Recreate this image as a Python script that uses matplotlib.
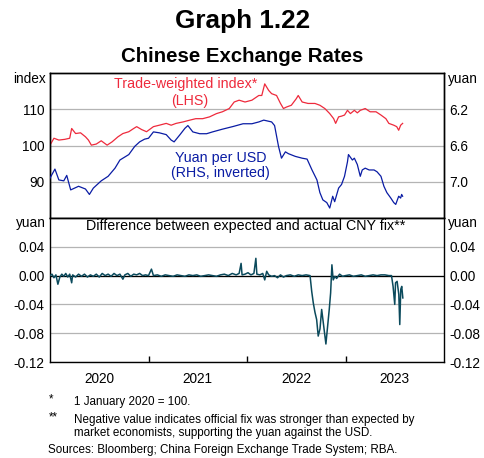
import matplotlib
matplotlib.use("Agg")
import matplotlib.pyplot as plt
from matplotlib.ticker import FixedLocator, FixedFormatter

plt.rcParams['font.family'] = ['Liberation Sans', 'DejaVu Sans']

# ---------------- data (decimal years) ----------------
twi_years = [2020.00, 2020.04, 2020.09, 2020.15, 2020.20, 2020.22, 2020.26, 2020.31, 2020.36, 2020.39,
             2020.42, 2020.47, 2020.52, 2020.58, 2020.63, 2020.69, 2020.74, 2020.80, 2020.85, 2020.88,
             2020.93, 2020.98, 2021.05, 2021.11, 2021.18, 2021.23, 2021.28, 2021.35, 2021.42, 2021.48,
             2021.55, 2021.62, 2021.69, 2021.75, 2021.82, 2021.87, 2021.92, 2021.98, 2022.05, 2022.12,
             2022.15, 2022.18, 2022.22, 2022.25, 2022.30, 2022.34, 2022.37, 2022.40, 2022.45, 2022.50,
             2022.52, 2022.56, 2022.62, 2022.69, 2022.74, 2022.79, 2022.84, 2022.88, 2022.90, 2022.93,
             2022.96, 2022.99, 2023.02, 2023.05, 2023.09, 2023.12, 2023.15, 2023.20, 2023.25, 2023.31,
             2023.36, 2023.41, 2023.44, 2023.49, 2023.52, 2023.54, 2023.56, 2023.58]
twi_vals = [100.1, 102.0, 101.5, 101.7, 102.0, 104.7, 103.3, 103.5, 102.4, 101.5,
            100.1, 100.4, 101.3, 100.1, 101.0, 102.4, 103.3, 103.8, 104.7, 105.2,
            104.4, 103.8, 105.2, 105.6, 106.1, 105.6, 106.1, 106.5, 107.0, 107.4,
            107.4, 107.9, 108.8, 109.3, 110.2, 112.0, 112.5, 112.0, 112.5, 113.8,
            113.8, 117.0, 115.2, 114.3, 113.8, 111.6, 110.2, 110.6, 111.1, 112.9,
            113.8, 112.0, 111.6, 111.6, 111.1, 110.2, 108.8, 107.4, 106.1, 107.9,
            108.1, 108.4, 109.7, 108.8, 109.7, 109.0, 109.7, 110.2, 109.3, 109.3,
            108.4, 107.4, 106.1, 105.6, 105.2, 104.2, 105.6, 106.1]

usd_years = [2020.00, 2020.05, 2020.09, 2020.14, 2020.17, 2020.21, 2020.29, 2020.36, 2020.40, 2020.44,
             2020.52, 2020.59, 2020.66, 2020.71, 2020.80, 2020.86, 2020.91, 2020.96, 2021.00, 2021.05,
             2021.11, 2021.18, 2021.23, 2021.26, 2021.32, 2021.37, 2021.40, 2021.45, 2021.52, 2021.59,
             2021.65, 2021.75, 2021.86, 2021.96, 2022.05, 2022.12, 2022.17, 2022.25, 2022.28, 2022.32,
             2022.35, 2022.39, 2022.42, 2022.49, 2022.56, 2022.61, 2022.66, 2022.71, 2022.74, 2022.77,
             2022.81, 2022.84, 2022.87, 2022.89, 2022.93, 2022.96, 2022.99, 2023.02, 2023.03, 2023.07,
             2023.09, 2023.12, 2023.15, 2023.17, 2023.20, 2023.24, 2023.29, 2023.32, 2023.36, 2023.39,
             2023.42, 2023.46, 2023.49, 2023.51, 2023.52, 2023.54, 2023.56, 2023.57, 2023.58]
usd_vals = [6.96, 6.86, 6.98, 6.99, 6.93, 7.09, 7.05, 7.08, 7.14, 7.07,
            6.99, 6.94, 6.85, 6.76, 6.70, 6.61, 6.56, 6.53, 6.52, 6.45,
            6.46, 6.48, 6.54, 6.56, 6.48, 6.41, 6.38, 6.45, 6.47, 6.47,
            6.45, 6.42, 6.39, 6.36, 6.36, 6.34, 6.32, 6.34, 6.38, 6.61,
            6.74, 6.67, 6.69, 6.72, 6.74, 6.75, 6.87, 6.98, 7.12, 7.20,
            7.23, 7.29, 7.16, 7.22, 7.07, 7.03, 6.94, 6.78, 6.70, 6.76,
            6.74, 6.81, 6.94, 6.87, 6.85, 6.87, 6.87, 6.89, 6.94, 7.05,
            7.12, 7.18, 7.23, 7.25, 7.22, 7.16, 7.18, 7.14, 7.16]

fix_years = [2020.00, 2020.02, 2020.04, 2020.06, 2020.08, 2020.10, 2020.12, 2020.14, 2020.16, 2020.18,
             2020.20, 2020.22, 2020.23, 2020.26, 2020.29, 2020.32, 2020.35, 2020.38, 2020.41, 2020.44,
             2020.47, 2020.50, 2020.53, 2020.56, 2020.59, 2020.62, 2020.65, 2020.68, 2020.71, 2020.74,
             2020.76, 2020.79, 2020.82, 2020.85, 2020.88, 2020.91, 2020.94, 2020.97, 2021.00, 2021.03,
             2021.05, 2021.09, 2021.13, 2021.17, 2021.21, 2021.25, 2021.29, 2021.33, 2021.37, 2021.41,
             2021.45, 2021.49, 2021.53, 2021.57, 2021.61, 2021.65, 2021.69, 2021.73, 2021.77, 2021.81,
             2021.85, 2021.89, 2021.92, 2021.94, 2021.95, 2021.98, 2022.01, 2022.04, 2022.07, 2022.09,
             2022.10, 2022.13, 2022.16, 2022.18, 2022.20, 2022.22, 2022.25, 2022.28, 2022.31, 2022.34,
             2022.37, 2022.40, 2022.44, 2022.48, 2022.52, 2022.56, 2022.60, 2022.64, 2022.657, 2022.673,
             2022.690, 2022.707, 2022.723, 2022.741, 2022.758, 2022.774, 2022.791, 2022.801, 2022.819, 2022.835,
             2022.849, 2022.862, 2022.875, 2022.893, 2022.91, 2022.94, 2022.97, 2023.00, 2023.04, 2023.08,
             2023.12, 2023.16, 2023.20, 2023.24, 2023.28, 2023.32, 2023.36, 2023.40, 2023.44, 2023.467,
             2023.483, 2023.493, 2023.50, 2023.508, 2023.524, 2023.541, 2023.551, 2023.561, 2023.571, 2023.582]
fix_vals = [0.000, 0.002, -0.003, 0.001, -0.012, -0.002, 0.002, -0.001, 0.003, -0.002,
            0.002, -0.010, 0.001, -0.002, 0.002, -0.001, 0.002, -0.002, 0.001, -0.001,
            0.002, -0.002, 0.003, 0.000, 0.002, -0.001, 0.003, 0.000, 0.002, -0.005,
            0.001, 0.003, -0.001, 0.002, 0.001, 0.003, 0.000, 0.001, 0.000, 0.009,
            0.000, 0.001, -0.001, 0.001, 0.000, -0.001, 0.001, 0.000, -0.001, 0.001,
            0.000, 0.001, -0.001, 0.000, 0.001, 0.000, -0.001, 0.001, 0.002, 0.000,
            0.003, 0.001, 0.003, 0.017, 0.001, 0.002, 0.004, 0.001, 0.003, 0.024,
            0.002, 0.001, 0.003, -0.006, 0.006, 0.001, -0.001, 0.000, -0.003, 0.001,
            -0.002, 0.000, 0.001, -0.001, 0.001, 0.000, 0.001, 0.000, -0.022, -0.038,
            -0.051, -0.061, -0.084, -0.074, -0.047, -0.065, -0.084, -0.095, -0.070, -0.047,
            -0.024, 0.015, -0.006, -0.001, -0.004, 0.002, -0.001, 0.000, 0.001, -0.001,
            0.000, 0.001, -0.001, 0.000, 0.001, 0.000, 0.001, 0.001, 0.000, 0.000,
            -0.015, -0.029, -0.040, -0.010, -0.008, -0.026, -0.068, -0.019, -0.015, -0.031]

year_labels = ['2020', '2021', '2022', '2023']
left_ticks = [90, 100, 110]
right_ticks = [6.2, 6.6, 7.0]
diff_ticks = [-0.12, -0.08, -0.04, 0.00, 0.04]

RED = '#ee2a3c'
BLUE = '#0a1ca4'
TEAL = '#0b4a5c'
GRID = '#b4b4b4'

W, H = 485, 458
fig = plt.figure(figsize=(W / 100, H / 100), dpi=100)

def fx(px):
    return px / W

def fy(py):
    return 1 - py / H

L, R = 50, 444
ax1 = fig.add_axes([fx(L), fy(218), fx(R) - fx(L), fy(73) - fy(218)])
ax3 = fig.add_axes([fx(L), fy(362), fx(R) - fx(L), fy(218) - fy(362)])

for ax in (ax1, ax3):
    ax.set_xlim(2020, 2024)
    for s in ax.spines.values():
        s.set_linewidth(1.0)
        s.set_color('black')

TFS = 9.8   # tick label size
AFS = 10.3  # annotation size

# ---- top panel ----
ax1.set_ylim(80, 120)
ax1.yaxis.set_major_locator(FixedLocator(left_ticks))
ax1.yaxis.set_major_formatter(FixedFormatter([str(v) for v in left_ticks]))
ax1.grid(axis='y', color=GRID, lw=0.9)
ax1.set_axisbelow(True)
ax1.tick_params(axis='y', length=0, labelsize=TFS, pad=4)
ax1.tick_params(axis='x', length=0, labelbottom=False)
ax1.plot(twi_years, twi_vals, color=RED, lw=0.9, zorder=3)

ax2 = ax1.twinx()
ax2.set_ylim(7.4, 5.8)
ax2.yaxis.set_major_locator(FixedLocator(right_ticks))
ax2.yaxis.set_major_formatter(FixedFormatter([f"{v:.1f}" for v in right_ticks]))
ax2.tick_params(axis='y', length=0, labelsize=TFS, pad=4)
ax2.plot(usd_years, usd_vals, color=BLUE, lw=0.9, zorder=3)
for s in ax2.spines.values():
    s.set_linewidth(1.0)

ax1.text(2020 + (186 - 50) / 98.7, 116.9, 'Trade-weighted index*', color=RED,
         fontsize=AFS, ha='center', va='center')
ax1.text(2020 + (190 - 50) / 98.7, 112.2, '(LHS)', color=RED,
         fontsize=AFS, ha='center', va='center')
ax1.text(2020 + (221 - 50) / 98.7, 96.6, 'Yuan per USD', color=BLUE,
         fontsize=AFS, ha='center', va='center')
ax1.text(2020 + (221 - 50) / 98.7, 92.5, '(RHS, inverted)', color=BLUE,
         fontsize=AFS, ha='center', va='center')

# ---- bottom panel ----
ax3.set_ylim(-0.12, 0.08)
ax3.yaxis.set_major_locator(FixedLocator(diff_ticks))
ax3.yaxis.set_major_formatter(FixedFormatter([f"{v:.2f}".replace('-0.00', '0.00') for v in diff_ticks]))
ax3.grid(axis='y', color=GRID, lw=0.9)
ax3.set_axisbelow(True)
ax3.axhline(0, color='black', lw=0.9, zorder=2)
ax3.tick_params(axis='y', length=0, labelsize=TFS, pad=4, labelright=True)
ax3.xaxis.set_major_locator(FixedLocator([2021, 2022, 2023]))
ax3.xaxis.set_major_formatter(FixedFormatter([]))
ax3.xaxis.set_minor_locator(FixedLocator([2020.5, 2021.5, 2022.5, 2023.5]))
ax3.xaxis.set_minor_formatter(FixedFormatter(year_labels))
ax3.tick_params(axis='x', which='major', direction='in', length=4, width=1)
ax3.tick_params(axis='x', which='minor', length=0, labelsize=TFS, pad=7)
ax3.plot(fix_years, fix_vals, color=TEAL, lw=1.1, zorder=3)
ax3.text(2022.0 - (0.5 * (R + L) - 246) / 98.7, 0.0690,
         'Difference between expected and actual CNY fix**',
         fontsize=AFS, ha='center', va='center')

# ---- titles and units ----
fig.text(0.5, fy(21), 'Graph 1.22', fontsize=18.8, fontweight='bold', ha='center', va='center')
fig.text(0.5, fy(56), 'Chinese Exchange Rates', fontsize=14.7, fontweight='bold', ha='center', va='center')
fig.text(fx(46), fy(79), 'index', fontsize=TFS, ha='right', va='center')
fig.text(fx(448), fy(79), 'yuan', fontsize=TFS, ha='left', va='center')
fig.text(fx(46), fy(223), 'yuan', fontsize=TFS, ha='right', va='center')
fig.text(fx(448), fy(223), 'yuan', fontsize=TFS, ha='left', va='center')

# ---- footnotes ----
fs = 8.4
fig.text(fx(49), fy(399), '*', fontsize=fs, ha='left', va='center')
fig.text(fx(74), fy(401.5), '1 January 2020 = 100.', fontsize=fs, ha='left', va='center')
fig.text(fx(49), fy(417), '**', fontsize=fs, ha='left', va='center')
fig.text(fx(74), fy(419.5), 'Negative value indicates official fix was stronger than expected by',
         fontsize=fs, ha='left', va='center')
fig.text(fx(74), fy(433), 'market economists, supporting the yuan against the USD.',
         fontsize=fs, ha='left', va='center')
fig.text(fx(48.5), fy(450.5), 'Sources: Bloomberg; China Foreign Exchange Trade System; RBA.',
         fontsize=fs, ha='left', va='center')

fig.savefig('out.png', dpi=100)
